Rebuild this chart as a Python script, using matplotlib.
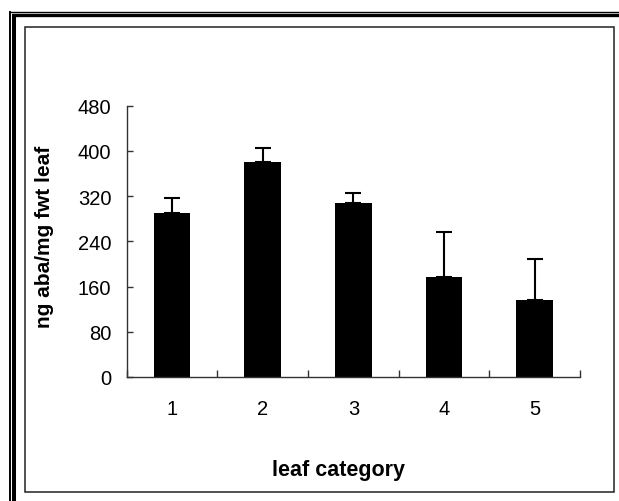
import matplotlib
matplotlib.use("Agg")
import matplotlib.pyplot as plt
from matplotlib.lines import Line2D
from matplotlib.patches import Rectangle

plt.rcParams['font.family'] = ['Liberation Sans', 'DejaVu Sans']

# ABA content per leaf category (mean and upper error)
categories = ["1", "2", "3", "4", "5"]
aba_mean = [290, 380, 307, 177, 136]
aba_err = [26, 25, 19, 79, 73]
y_ticks = [0, 80, 160, 240, 320, 400, 480]

W, H = 619, 502
fig = plt.figure(figsize=(W / 100, H / 100), dpi=100)


def fx(px):
    return px / W


def fy(py):
    return 1 - py / H


# page-style border: thin + thick outer lines, thin inner box
def hline(y, x0, x1, lw):
    fig.add_artist(Line2D([fx(x0), fx(x1)], [fy(y), fy(y)], lw=lw,
                          color='black', transform=fig.transFigure,
                          solid_capstyle='butt'))


def vline(x, y0, y1, lw):
    fig.add_artist(Line2D([fx(x), fx(x)], [fy(y0), fy(y1)], lw=lw,
                          color='black', transform=fig.transFigure,
                          solid_capstyle='butt'))


hline(12.8, 8.5, W, 1.0)
vline(9.8, 11.5, H, 1.4)
hline(15.8, 11.5, W, 2.4)
vline(14.0, 14.5, H, 2.9)
fig.add_artist(Rectangle((fx(25), fy(492.7)), fx(613.7) - fx(25),
                         fy(28) - fy(492.7), fill=False, lw=1.1,
                         edgecolor='#222222', transform=fig.transFigure))

ax = fig.add_axes([fx(126.7), fy(378), fx(580) - fx(126.7), fy(106.7) - fy(378)])
ax.patch.set_alpha(0)

x = list(range(1, len(categories) + 1))
ax.bar(x, aba_mean, width=0.405, color='black', zorder=2)
ax.errorbar(x, aba_mean, yerr=[[0] * len(aba_err), aba_err], fmt='none',
            ecolor='black', elinewidth=1.5, capsize=5.5, capthick=1.5, zorder=3)

ax.set_xlim(0.5, len(categories) + 0.5)
ax.set_ylim(0, 480)
ax.set_yticks(y_ticks)
ax.set_yticklabels([str(v) for v in y_ticks], fontsize=14.5)
ax.set_xticks(x)
ax.set_xticklabels(categories, fontsize=14.5)
ax.set_xticks([i + 0.5 for i in range(0, len(categories) + 1)], minor=True)

for s in ['top', 'right']:
    ax.spines[s].set_visible(False)
for s in ['left', 'bottom']:
    ax.spines[s].set_color('#333333')
    ax.spines[s].set_linewidth(1.0)

ax.tick_params(axis='y', which='major', direction='in', length=4.5,
               width=1.0, color='#333333', pad=11)
ax.tick_params(axis='x', which='major', length=0, pad=16)
ax.tick_params(axis='x', which='minor', direction='in', length=5,
               width=1.0, color='#333333')

fig.text(fx(44), fy(237), "ng aba/mg fwt leaf", rotation=90, fontsize=15,
         fontweight='bold', ha='center', va='center')
fig.text(fx(338), fy(476.5), "leaf category", fontsize=15.5,
         fontweight='bold', ha='center', va='baseline')

fig.savefig("out.png", dpi=100)
